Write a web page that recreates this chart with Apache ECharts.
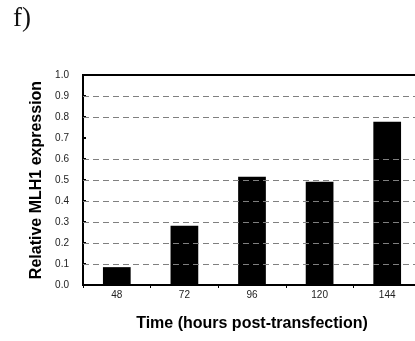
<!DOCTYPE html>
<html>
<head>
<meta charset="utf-8">
<script src="https://cdn.jsdelivr.net/npm/echarts@6/dist/echarts.min.js"></script>
<style>
  html, body { margin: 0; padding: 0; background: #fff; }
  #chart { width: 415px; height: 341px; }
</style>
</head>
<body>
<div id="chart"></div>
<script>
// Relative MLH1 expression over time after transfection
const timePoints = ['48', '72', '96', '120', '144'];
const mlh1Expression = [0.085, 0.282, 0.516, 0.492, 0.777];
const yTicks = [0.0, 0.1, 0.2, 0.3, 0.4, 0.5, 0.6, 0.7, 0.8, 0.9, 1.0];
// dashed reference levels drawn across the plot
const gridLevels = [0.1, 0.2, 0.3, 0.4, 0.5, 0.6, 0.8, 0.9];

const chart = echarts.init(document.getElementById('chart'));

chart.setOption({
  animation: false,
  backgroundColor: '#ffffff',
  graphic: [{
    type: 'text',
    left: 13,
    top: 5,
    style: {
      text: 'f)',
      font: '27px "Liberation Serif", "DejaVu Serif", serif',
      fill: '#111'
    }
  }],
  grid: {
    left: 83,
    top: 75,
    right: -6,
    bottom: 56,
    outerBoundsMode: 'none',
    containLabel: false,
    show: true,
    borderColor: '#000',
    borderWidth: 2,
    backgroundColor: 'transparent'
  },
  xAxis: {
    type: 'category',
    data: timePoints,
    name: 'Time (hours post-transfection)',
    nameLocation: 'middle',
    nameGap: 31,
    nameTextStyle: {
      fontFamily: 'Liberation Sans, Arial, sans-serif',
      fontWeight: 'bold',
      fontSize: 16,
      color: '#000'
    },
    axisLine: { lineStyle: { color: '#000', width: 2 } },
    axisTick: {
      show: true,
      alignWithLabel: false,
      inside: false,
      length: 3,
      lineStyle: { color: '#000', width: 1 }
    },
    axisLabel: {
      fontFamily: 'Liberation Sans, Arial, sans-serif',
      fontSize: 10,
      color: '#222',
      margin: 5
    },
    splitLine: { show: false }
  },
  yAxis: {
    type: 'value',
    min: 0,
    max: 1,
    interval: 0.1,
    name: 'Relative MLH1 expression',
    nameLocation: 'middle',
    nameGap: 34,
    nameTextStyle: {
      fontFamily: 'Liberation Sans, Arial, sans-serif',
      fontWeight: 'bold',
      fontSize: 16,
      color: '#000'
    },
    axisLine: { show: true, lineStyle: { color: '#000', width: 2 } },
    axisTick: {
      show: true,
      inside: true,
      length: 3,
      lineStyle: { color: '#000', width: 2 }
    },
    axisLabel: {
      fontFamily: 'Liberation Sans, Arial, sans-serif',
      fontSize: 10,
      color: '#222',
      margin: 14,
      formatter: function (v) {
        const t = yTicks.find(function (y) { return Math.abs(y - v) < 1e-6; });
        return (t !== undefined ? t : v).toFixed(1);
      }
    },
    splitLine: { show: false }
  },
  series: [
    {
      // dashed horizontal guides behind the bars
      type: 'line',
      data: [],
      z: 1,
      silent: true,
      markLine: {
        silent: true,
        symbol: 'none',
        label: { show: false },
        lineStyle: { color: '#808080', type: [6, 4], width: 1 },
        data: gridLevels.map(function (v) { return { yAxis: v }; })
      }
    },
    {
      type: 'bar',
      data: mlh1Expression,
      barWidth: '41%',
      z: 3,
      itemStyle: { color: '#000' }
    }
  ]
});
</script>
</body>
</html>
